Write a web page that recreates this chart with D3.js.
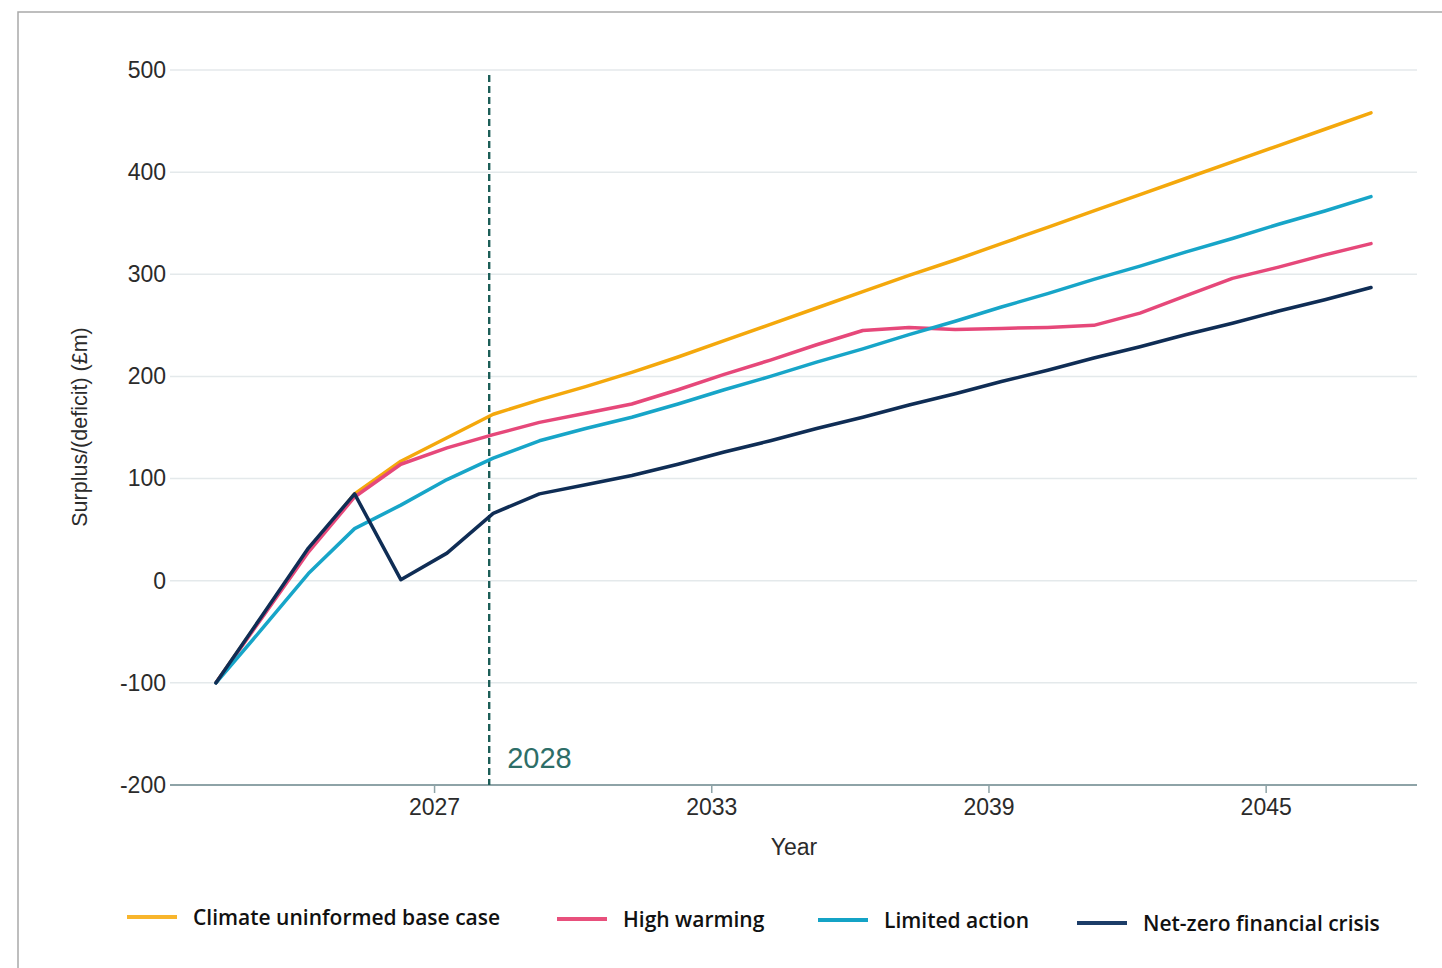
<!DOCTYPE html>
<html>
<head>
<meta charset="utf-8">
<script src="https://cdn.jsdelivr.net/npm/d3@7"></script>
<style>
  html, body { margin: 0; padding: 0; background: #fff; }
  svg { display: block; }
</style>
</head>
<body>
<svg id="chart" width="1442" height="968"></svg>
<script>
// ---- data ----
const years = d3.range(2022, 2048); // 2022..2047
const baseCase = [-100, -35, 30, 85, 117, 140, 163, 177, 190, 204, 219, 235, 251, 267, 283, 299, 314, 330, 346, 362, 378, 394, 410, 426, 442, 458];
const highWarming = [-100, -36, 28, 82, 114, 130, 143, 155, 164, 173, 187, 202, 216, 231, 245, 248, 246, 247, 248, 250, 262, 279, 296, 307, 319, 330];
const limitedAction = [-100, -47, 7, 51, 74, 99, 120, 137, 149, 160, 173, 187, 200, 214, 227, 241, 254, 268, 281, 295, 308, 322, 335, 349, 362, 376];
const netZeroCrisis = [-100, -34, 32, 85, 1, 27, 66, 85, 94, 103, 114, 126, 137, 149, 160, 172, 183, 195, 206, 218, 229, 241, 252, 264, 275, 287];
const seriesNames = ["Climate uninformed base case", "High warming", "Limited action", "Net-zero financial crisis"];
const xTickLabels = [2027, 2033, 2039, 2045];
const yTickValues = [-200, -100, 0, 100, 200, 300, 400, 500];
const markerYear = 2028;

// ---- styles ----
const lineColors = ["#f4a80c", "#e6487a", "#17a5c8", "#0f2d55"];
const legendColors = ["#f8b52c", "#e8507c", "#14a3c6", "#1c3d68"];
const axisFont = "Liberation Sans, Arial, sans-serif";

const svg = d3.select("#chart");

// frame
svg.append("path")
  .attr("d", "M18,968 L18,12 L1442,12")
  .attr("fill", "none").attr("stroke", "#a9a9a9").attr("stroke-width", 1.5);

const x = d3.scaleLinear().domain([2022, 2047]).range([216, 1371]);
const tickShift = 0.28;
const xTick = x.copy().domain(x.domain().map(d => d + tickShift));
const y = d3.scaleLinear().domain([-200, 500]).range([785, 70]);

const plotLeft = 170, plotRight = 1417;

// gridlines
svg.append("g").selectAll("line").data(yTickValues.filter(v => v > -200)).join("line")
  .attr("x1", plotLeft).attr("x2", plotRight)
  .attr("y1", d => y(d)).attr("y2", d => y(d))
  .attr("stroke", "#e4e9eb").attr("stroke-width", 1.5);

// y axis
const yAxis = d3.axisLeft(y).tickValues(yTickValues).tickSize(0).tickPadding(4).tickFormat(d => String(d));
const gy = svg.append("g").attr("transform", `translate(${plotLeft},0)`).call(yAxis);
gy.select(".domain").remove();
gy.selectAll(".tick text").attr("font-family", axisFont).attr("font-size", 23).attr("fill", "#2b2b2b");

// x axis
const xAxis = d3.axisBottom(xTick).tickValues(xTickLabels).tickSize(8).tickPadding(6).tickFormat(d => String(d));
const gx = svg.append("g").attr("transform", `translate(0,${y(-200)})`).call(xAxis);
gx.select(".domain").attr("d", `M${plotLeft},0H${plotRight}`).attr("stroke", "#8ea3a7").attr("stroke-width", 2);
gx.selectAll(".tick line").attr("stroke", "#8ea3a7").attr("stroke-width", 1.5);
gx.selectAll(".tick text").attr("font-family", axisFont).attr("font-size", 23).attr("fill", "#2b2b2b");

// axis titles
svg.append("text").attr("x", 794).attr("y", 855).attr("text-anchor", "middle")
  .attr("font-family", axisFont).attr("font-size", 23).attr("fill", "#2b2b2b").text("Year");
svg.append("text").attr("transform", "translate(87,427) rotate(-90)").attr("text-anchor", "middle")
  .attr("font-family", axisFont).attr("font-size", 21.5).attr("fill", "#2b2b2b")
  .text("Surplus/(deficit) (£m)");

// marker line
svg.append("line")
  .attr("x1", x(markerYear) - 4).attr("x2", x(markerYear) - 4)
  .attr("y1", 75).attr("y2", y(-200))
  .attr("stroke", "#1d5e58").attr("stroke-width", 2.4).attr("stroke-dasharray", "7,4");
svg.append("text").attr("x", x(markerYear) + 14).attr("y", 768)
  .attr("font-family", axisFont).attr("font-size", 29).attr("fill", "#2d6e68")
  .text(String(markerYear));

// lines
const allSeries = [baseCase, highWarming, limitedAction, netZeroCrisis];
const line = d3.line().x((d, i) => x(years[i])).y(d => y(d));
svg.append("g").selectAll("path").data(allSeries).join("path")
  .attr("d", d => line(d))
  .attr("fill", "none")
  .attr("stroke", (d, i) => lineColors[i])
  .attr("stroke-width", 3.5)
  .attr("stroke-linejoin", "round").attr("stroke-linecap", "round");

// legend
const legendX = [127, 557, 818, 1077];
const legendY = [917, 919, 920, 923];
const lg = svg.append("g").selectAll("g").data(seriesNames).join("g")
  .attr("transform", (d, i) => `translate(${legendX[i]},${legendY[i]})`);
lg.append("line").attr("x1", 0).attr("x2", 50).attr("y1", 0).attr("y2", 0)
  .attr("stroke", (d, i) => legendColors[i]).attr("stroke-width", 4);
lg.append("text").attr("x", 66).attr("y", 7.5)
  .attr("font-family", "Open Sans, sans-serif").attr("font-weight", 600).attr("font-size", 21).attr("fill", "#111")
  .text(d => d);
</script>
</body>
</html>
